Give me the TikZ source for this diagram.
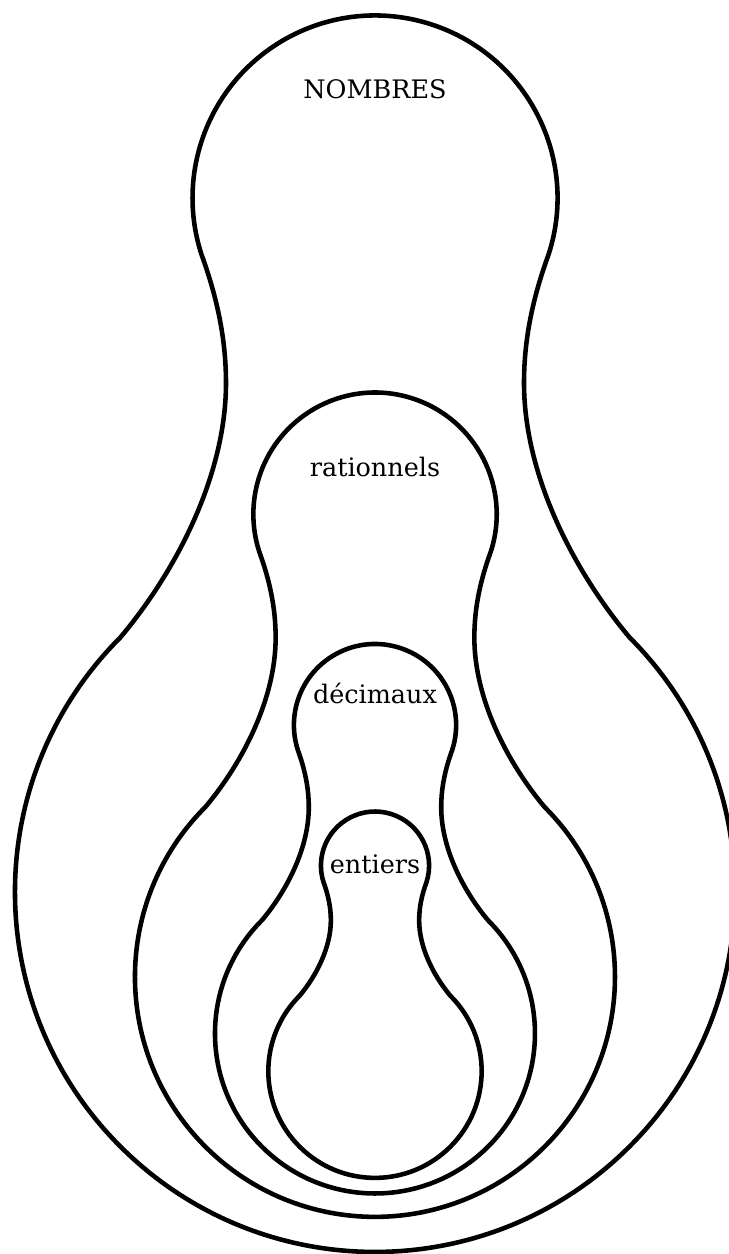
\documentclass[tikz,border=0pt]{standalone}
\usepackage{fontspec}
\setmainfont{DejaVu Serif}
\usepackage{tikz}
\tikzset{
  contour/.style={draw=black, line width=2.6pt, line join=round},
  etiquette/.style={font=\fontsize{14.5}{17}\selectfont, anchor=base, inner sep=0pt}
}
% contour d'une poire (le plus grand), origine au centre d'homothetie
\newcommand{\poire}{%
  (173.6,892.3) arc[start angle=-18, end angle=198, radius=182.5]
  .. controls (-158.2,850) and (-149,808.7) .. (-149,763.7)
  .. controls (-149,673.7) and (-196.7,578.2) .. (-254.6,509.3)
  arc[start angle=135, end angle=405, radius=360]
  .. controls (196.7,578.2) and (149,673.7) .. (149,763.7)
  .. controls (149,808.7) and (158.2,850) .. (173.6,892.3) -- cycle}

\begin{document}
\begin{tikzpicture}[x=0.02cm,y=0.02cm]
  \useasboundingbox (-375,-107.3) rectangle (354,1146.7);
  \clip (-375,-107.3) rectangle (354,1146.7);

  \foreach \f in {1,0.6667,0.4444,0.2963}
    \draw[contour, scale=\f] \poire;

  \node[etiquette] (nombres) at (0,1048.4) {NOMBRES};
  \node[etiquette] (rationnels) at (0,670) {rationnels};
  \node[etiquette] (decimaux) at (0,443.4) {décimaux};
  \node[etiquette] (entiers) at (0,273.4) {entiers};
\end{tikzpicture}
\end{document}
